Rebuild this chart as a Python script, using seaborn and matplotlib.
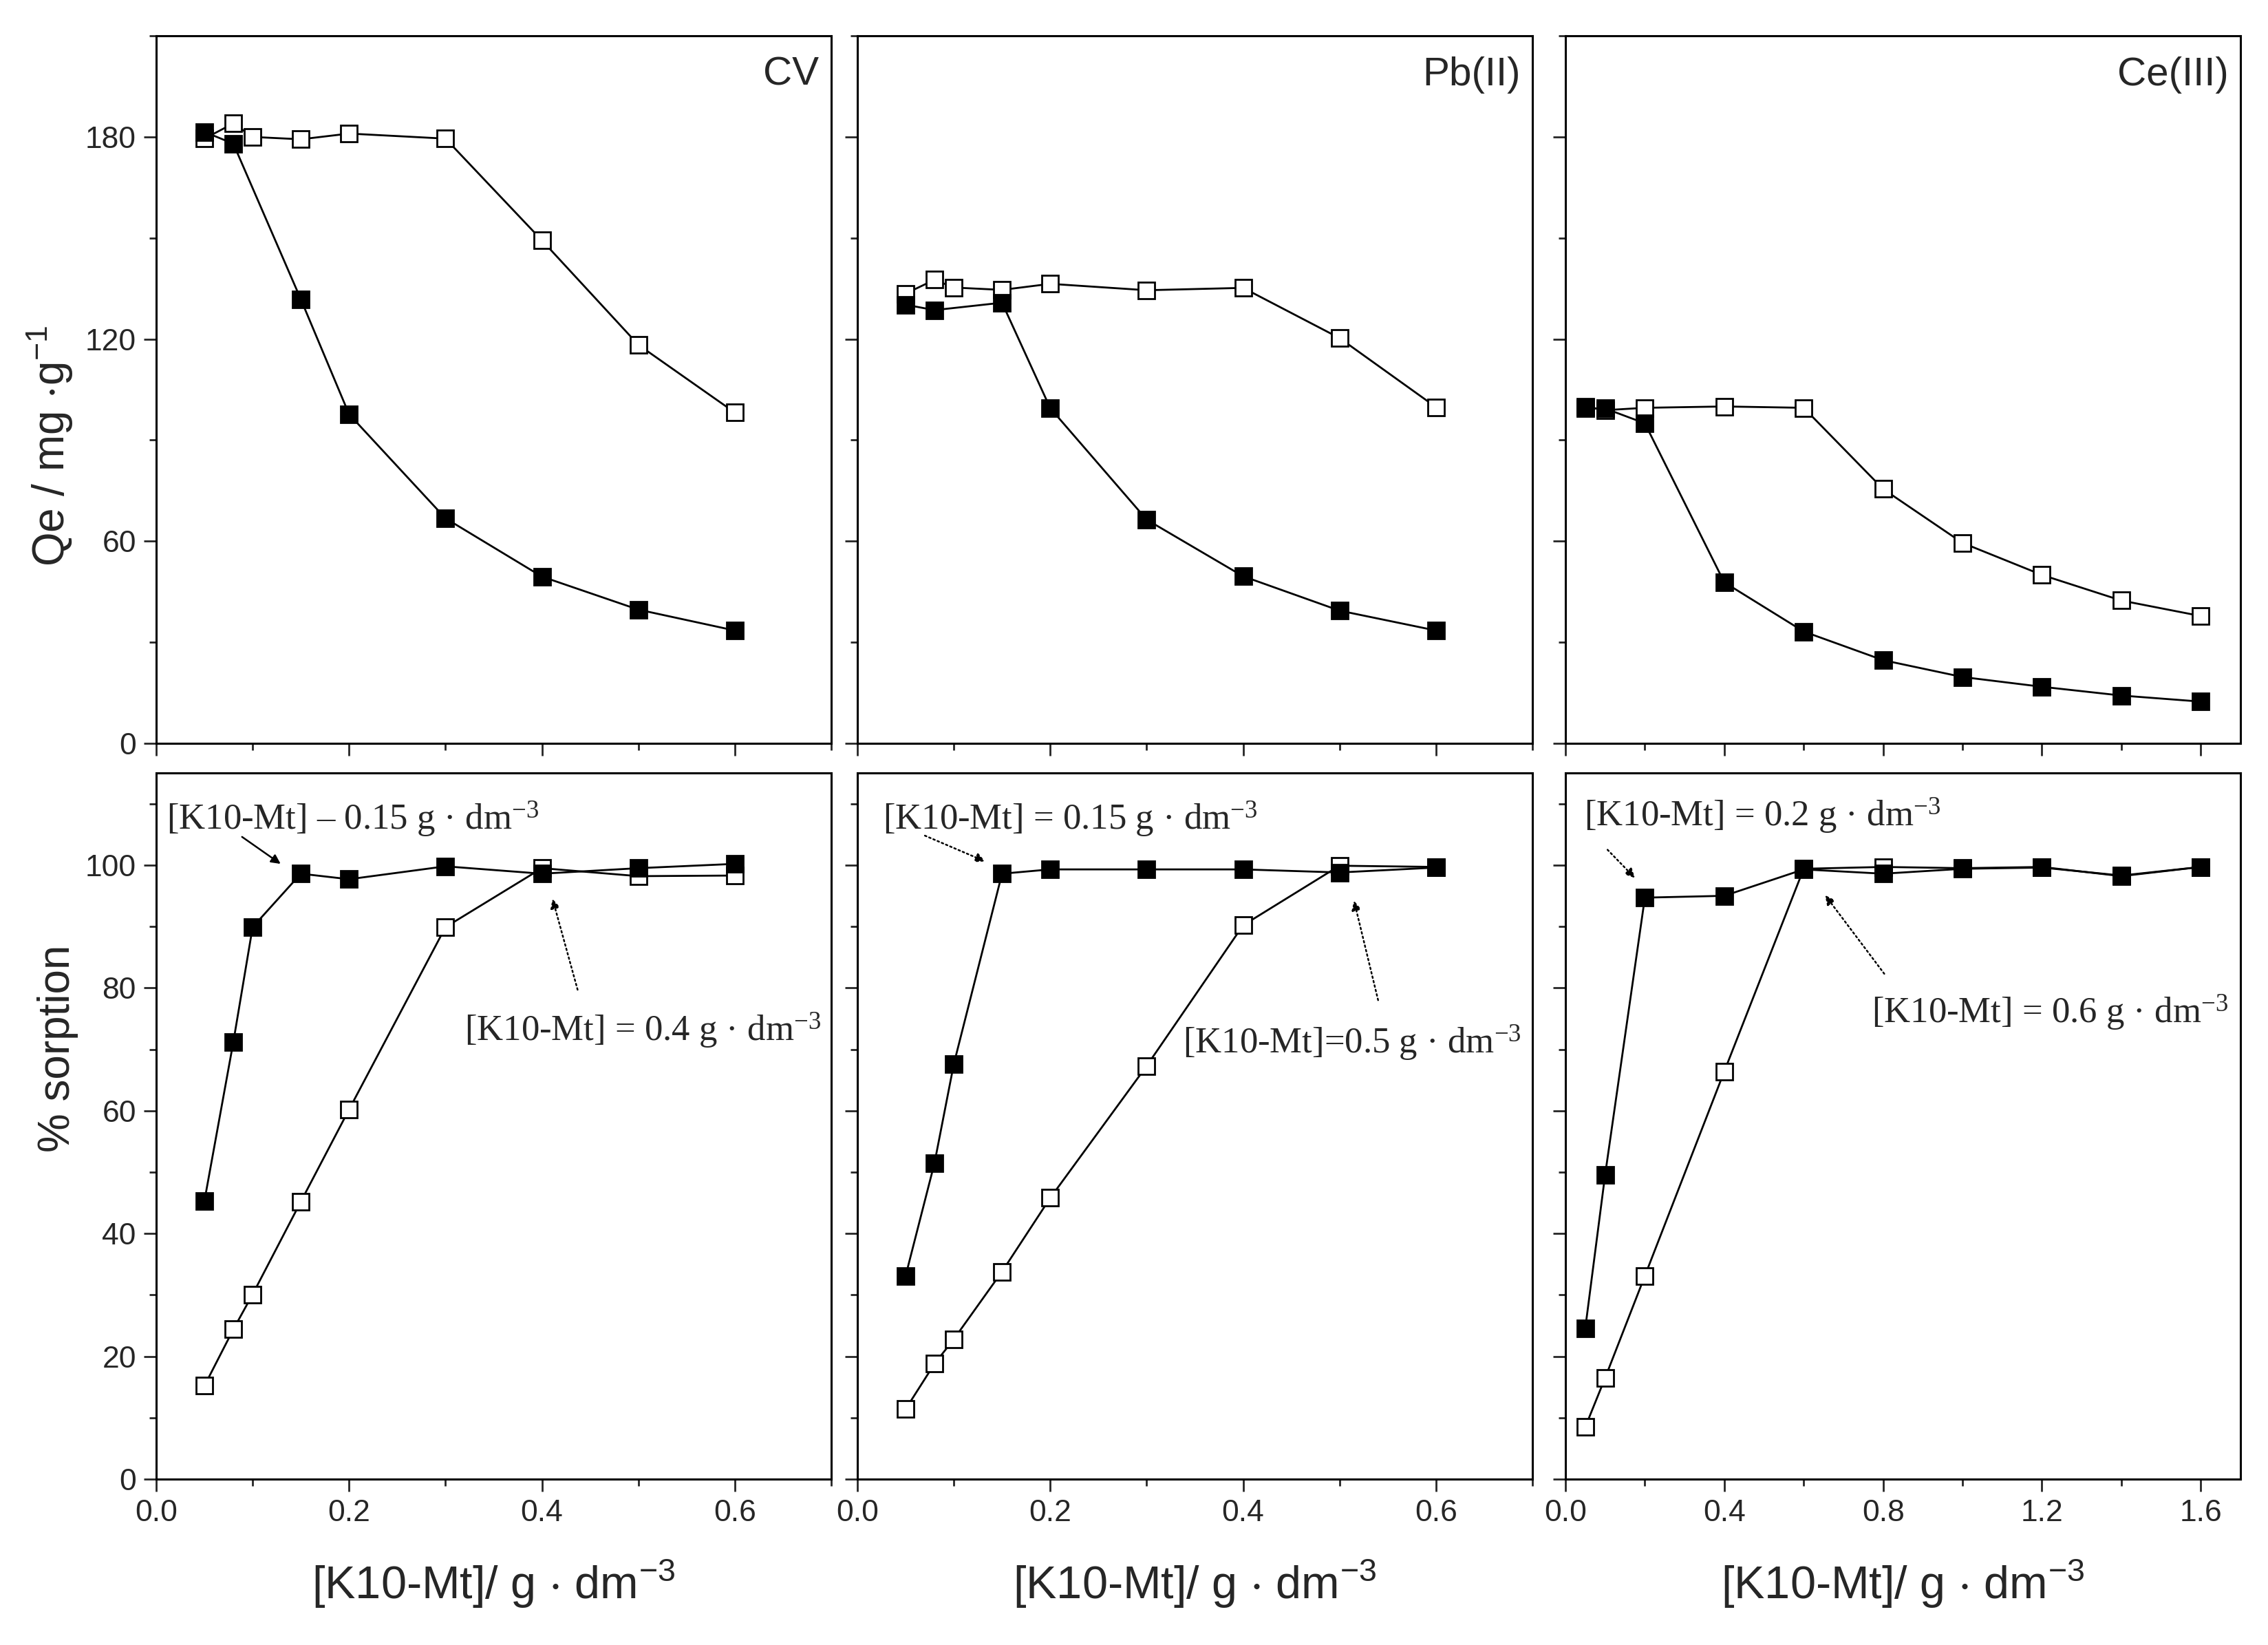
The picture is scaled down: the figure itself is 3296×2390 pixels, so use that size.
import matplotlib
matplotlib.use("Agg")
import matplotlib.pyplot as plt
from matplotlib.ticker import MultipleLocator, NullFormatter
import numpy as np
import pandas as pd
import seaborn as sns

sns.set_style("ticks")
plt.rcParams['font.family'] = ['Liberation Sans', 'DejaVu Sans']
plt.rcParams['mathtext.default'] = 'regular'

# ---- data ----
# CV
cv_x = [0.05, 0.08, 0.1, 0.15, 0.2, 0.3, 0.4, 0.5, 0.6]
cv_qe_open = [179.5, 184, 180, 179.3, 181, 179.5, 149.3, 118.3, 98.2]
cv_qe_fill_x = [0.05, 0.08, 0.15, 0.2, 0.3, 0.4, 0.5, 0.6]
cv_qe_fill = [181.5, 178, 131.8, 97.7, 66.8, 49.5, 39.7, 33.5]
cv_sorp_open = [15.2, 24.4, 30.1, 45.2, 60.2, 89.9, 99.5, 98.2, 98.3]
cv_sorp_fill = [45.3, 71.2, 89.9, 98.6, 97.7, 99.8, 98.6, 99.5, 100.2]

# Pb(II)
pb_x = [0.05, 0.08, 0.1, 0.15, 0.2, 0.3, 0.4, 0.5, 0.6]
pb_qe_open = [133.5, 137.6, 135.3, 134.6, 136.4, 134.5, 135.2, 120.3, 99.8]
pb_qe_fill_x = [0.05, 0.08, 0.15, 0.2, 0.3, 0.4, 0.5, 0.6]
pb_qe_fill = [130.2, 128.6, 130.8, 99.5, 66.4, 49.6, 39.4, 33.5]
pb_sorp_open = [11.4, 18.8, 22.8, 33.8, 45.8, 67.3, 90.2, 99.9, 99.7]
pb_sorp_fill = [33.1, 51.5, 67.6, 98.6, 99.3, 99.3, 99.3, 98.8, 99.6]

# Ce(III)
ce_x = [0.05, 0.1, 0.2, 0.4, 0.6, 0.8, 1.0, 1.2, 1.4, 1.6]
ce_qe_open = [100, 98.9, 99.6, 100, 99.6, 75.5, 59.5, 50, 42.4, 37.8]
ce_qe_fill = [99.4, 99.4, 95, 47.8, 33.2, 24.7, 19.7, 16.8, 14.2, 12.4]
ce_sorp_open = [8.5, 16.5, 33.1, 66.4, 99.4, 99.7, 99.5, 99.7, 98.2, 99.7]
ce_sorp_fill = [24.6, 49.6, 94.7, 95.0, 99.3, 98.6, 99.4, 99.6, 98.3, 99.7]

panel_names = ["CV", "Pb(II)", "Ce(III)"]
xlabel = "[K10-Mt]/ g $\\cdot$ dm$^{-3}$"

# annotations: (text, text_xy, arrow_tail, arrow_head, linestyle)
notes = [
    [("[K10-Mt] – 0.15 g · dm$^{-3}$", (0.011, 107.5), (0.089, 104.6), (0.129, 100.2), '-'),
     ("[K10-Mt] = 0.4 g · dm$^{-3}$", (0.32, 73.0), (0.437, 79.7), (0.411, 94.5), ':')],
    [("[K10-Mt] = 0.15 g · dm$^{-3}$", (0.0265, 107.5), (0.07, 104.8), (0.1325, 100.6), ':'),
     ("[K10-Mt]=0.5 g · dm$^{-3}$", (0.3375, 71.0), (0.54, 78.0), (0.515, 94.2), ':')],
    [("[K10-Mt] = 0.2 g · dm$^{-3}$", (0.046, 108.0), (0.106, 102.5), (0.175, 97.9), ':'),
     ("[K10-Mt] = 0.6 g · dm$^{-3}$", (0.772, 76.0), (0.803, 82.3), (0.654, 95.1), ':')],
]

top_data = [
    (cv_x, cv_qe_open, cv_qe_fill_x, cv_qe_fill),
    (pb_x, pb_qe_open, pb_qe_fill_x, pb_qe_fill),
    (ce_x, ce_qe_open, ce_x, ce_qe_fill),
]
bot_data = [
    (cv_x, cv_sorp_open, cv_x, cv_sorp_fill),
    (pb_x, pb_sorp_open, pb_x, pb_sorp_fill),
    (ce_x, ce_sorp_open, ce_x, ce_sorp_fill),
]

fig = plt.figure(figsize=(16.48, 11.95), dpi=200)
lefts = [227 / 3296, 1246 / 3296, 2275 / 3296]
w = 981 / 3296
top_axes = [fig.add_axes([l, 0.5481, w, 0.4301]) for l in lefts]
bot_axes = [fig.add_axes([l, 0.1008, w, 0.4293]) for l in lefts]


def draw(ax, xo, yo, xf, yf):
    sns.lineplot(x=xo, y=yo, ax=ax, color='black', lw=1.0, sort=False,
                 estimator=None, marker='s', markersize=8.5,
                 markerfacecolor='white', markeredgecolor='black',
                 markeredgewidth=1.0, zorder=3)
    sns.lineplot(x=xf, y=yf, ax=ax, color='black', lw=1.0, sort=False,
                 estimator=None, marker='s', markersize=8.5,
                 markerfacecolor='black', markeredgecolor='black',
                 markeredgewidth=1.0, zorder=4)


def style(ax):
    for s in ax.spines.values():
        s.set_linewidth(1.1)
        s.set_color('black')
    ax.tick_params(which='major', direction='out', length=6.5, width=1.0,
                   labelsize=16, pad=4)
    ax.tick_params(which='minor', direction='out', length=3.5, width=1.0)
    ax.set_xlabel('')
    ax.set_ylabel('')


for i in range(3):
    ta, ba = top_axes[i], bot_axes[i]
    draw(ta, *top_data[i])
    draw(ba, *bot_data[i])
    xmax = 1.7 if i == 2 else 0.7
    major = 0.4 if i == 2 else 0.2
    for ax in (ta, ba):
        style(ax)
        ax.set_xlim(0, xmax)
        ax.xaxis.set_major_locator(MultipleLocator(major))
        ax.xaxis.set_minor_locator(MultipleLocator(major / 2))
    ta.set_ylim(0, 210)
    ta.yaxis.set_major_locator(MultipleLocator(60))
    ta.yaxis.set_minor_locator(MultipleLocator(30))
    ba.set_ylim(0, 115)
    ba.yaxis.set_major_locator(MultipleLocator(20))
    ba.yaxis.set_minor_locator(MultipleLocator(10))
    ta.xaxis.set_major_formatter(NullFormatter())
    ba.xaxis.set_major_formatter(plt.FuncFormatter(lambda v, p: f"{v:.1f}"))
    if i > 0:
        ta.yaxis.set_major_formatter(NullFormatter())
        ba.yaxis.set_major_formatter(NullFormatter())

    ta.text(0.982, 0.945, panel_names[i], transform=ta.transAxes,
            ha='right', va='center', fontsize=21)
    ba.set_xlabel(xlabel, fontsize=24, va='center')
    ba.xaxis.set_label_coords(0.5, -0.148)

    for txt, pos, tail, head, ls in notes[i]:
        ba.text(pos[0], pos[1], txt, fontsize=19, ha='left', va='center',
                family=['Liberation Serif', 'DejaVu Serif'],
                math_fontfamily='stix', zorder=6)
        ba.annotate('', xy=head, xytext=tail,
                    arrowprops=dict(arrowstyle='-|>', color='black', lw=0.9,
                                    linestyle=ls, mutation_scale=10,
                                    shrinkA=0, shrinkB=0), zorder=6)

top_axes[0].set_ylabel("Qe / mg $\\cdot$g$^{-1}$", fontsize=23, va='center')
top_axes[0].yaxis.set_label_coords(-0.157, 0.42)
bot_axes[0].set_ylabel("% sorption", fontsize=23, va='center')
bot_axes[0].yaxis.set_label_coords(-0.146, 0.61)

fig.savefig("out.png", dpi=200)
